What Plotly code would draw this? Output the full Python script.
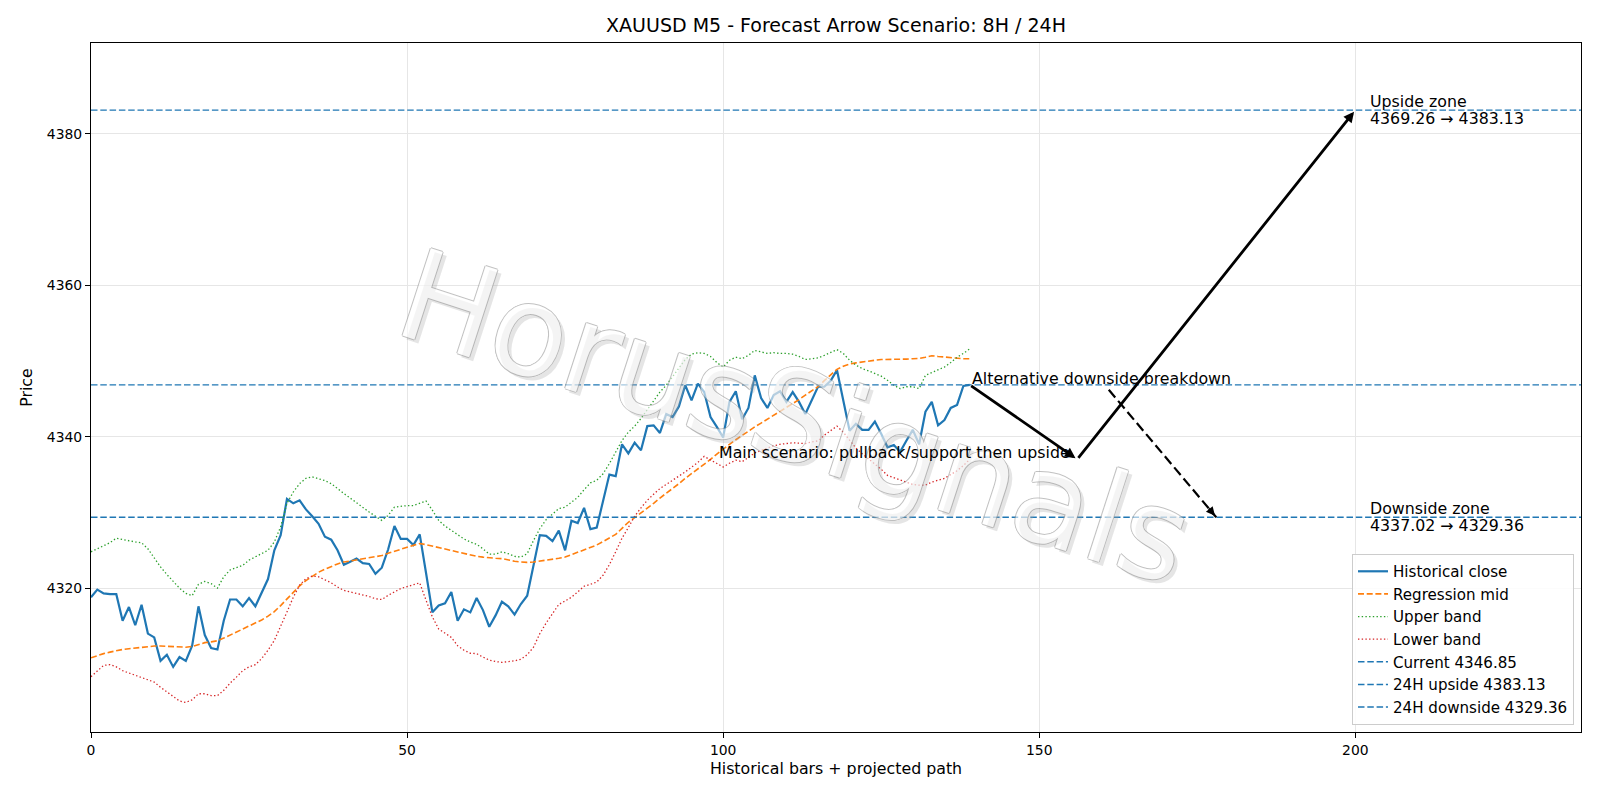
import plotly.graph_objects as go

# ---------------- data ----------------
bars = list(range(140))

close = [
    4318.8, 4319.8, 4319.3, 4319.2, 4319.2, 4315.7, 4317.5, 4315.1, 4317.8, 4314.0,
    4313.5, 4310.4, 4311.2, 4309.6, 4310.9, 4310.4, 4312.4, 4317.6, 4313.8, 4312.1,
    4311.9, 4315.7, 4318.5, 4318.5, 4317.6, 4318.7, 4317.6, 4319.3, 4321.2, 4325.0,
    4327.0, 4331.8, 4331.2, 4331.6, 4330.4, 4329.5, 4328.5, 4326.8, 4326.4, 4325.0,
    4323.1, 4323.5, 4323.9, 4323.3, 4323.2, 4321.9, 4322.7, 4325.1, 4328.2, 4326.5,
    4326.5, 4325.7, 4327.1, 4322.0, 4316.8, 4317.7, 4318.0, 4319.5, 4315.7, 4317.2,
    4316.8, 4318.7, 4317.1, 4314.9, 4316.4, 4318.2, 4317.6, 4316.5, 4317.9, 4319.0,
    4323.0, 4327.0, 4326.9, 4326.2, 4327.6, 4325.0, 4328.9, 4328.6, 4330.6, 4327.8,
    4328.0, 4331.6, 4335.0, 4334.8, 4339.0, 4337.8, 4339.2, 4338.2, 4341.4, 4341.5,
    4340.5, 4343.0, 4342.6, 4344.0, 4346.8, 4344.8, 4347.0, 4345.9, 4342.6, 4341.3,
    4339.9, 4344.6, 4346.0, 4342.3, 4343.8, 4348.1, 4345.1, 4343.8, 4345.5, 4346.0,
    4344.6, 4345.9, 4344.6, 4343.0, 4344.8, 4346.6, 4346.6, 4347.4, 4348.8, 4344.8,
    4340.8, 4341.7, 4340.9, 4340.9, 4342.0, 4340.4, 4338.6, 4338.9, 4338.0, 4339.5,
    4340.9, 4339.0, 4343.3, 4344.6, 4341.5, 4342.2, 4343.8, 4344.2, 4346.7, 4346.85,
]

reg_mid = [
    4310.8, 4311.1, 4311.35, 4311.55, 4311.75, 4311.9, 4312.0, 4312.1, 4312.2, 4312.3,
    4312.35, 4312.35, 4312.3, 4312.25, 4312.2, 4312.2, 4312.3, 4312.6, 4312.8, 4312.9,
    4313.05, 4313.4, 4313.8, 4314.2, 4314.6, 4315.0, 4315.4, 4315.8, 4316.3, 4316.9,
    4317.7, 4318.6, 4319.5, 4320.3, 4321.0, 4321.6, 4322.1, 4322.5, 4322.9, 4323.2,
    4323.45, 4323.6, 4323.75, 4323.9, 4324.0, 4324.1, 4324.3, 4324.6, 4324.9, 4325.15,
    4325.4, 4325.65, 4325.9, 4325.75, 4325.55, 4325.35, 4325.1, 4324.9, 4324.7, 4324.5,
    4324.3, 4324.2, 4324.1, 4324.0, 4323.95, 4323.9, 4323.7, 4323.55, 4323.45, 4323.4,
    4323.45, 4323.55, 4323.7, 4323.8, 4323.95, 4324.1, 4324.4, 4324.7, 4325.0, 4325.35,
    4325.7, 4326.15, 4326.6, 4327.1, 4327.9, 4328.7, 4329.3, 4329.9, 4330.5, 4331.2,
    4331.9, 4332.5, 4333.1, 4333.8, 4334.5, 4335.1, 4335.7, 4336.3, 4337.0, 4337.7,
    4338.4, 4339.0, 4339.6, 4340.2, 4340.8, 4341.3, 4341.8, 4342.3, 4342.8, 4343.3,
    4343.85, 4344.4, 4344.9, 4345.5, 4346.0, 4346.6, 4347.4, 4348.2, 4348.9, 4349.3,
    4349.6, 4349.75, 4349.9, 4350.0, 4350.1, 4350.2, 4350.2, 4350.2, 4350.2, 4350.25,
    4350.3, 4350.35, 4350.5, 4350.7, 4350.6, 4350.5, 4350.4, 4350.3, 4350.3, 4350.3,
]

upper = [
    4324.8, 4325.2, 4325.5, 4326.0, 4326.6, 4326.4, 4326.2, 4326.1, 4326.0, 4325.2,
    4324.0, 4322.8, 4321.8, 4320.9, 4320.0, 4319.3, 4319.0, 4320.5, 4320.9, 4320.6,
    4320.0, 4321.5, 4322.4, 4322.7, 4323.0, 4323.7, 4324.1, 4324.5, 4325.0, 4326.1,
    4328.1, 4331.2, 4332.7, 4333.8, 4334.5, 4334.7, 4334.5, 4334.2, 4333.8, 4333.1,
    4332.5, 4331.9, 4331.25, 4330.6, 4330.05, 4329.5, 4328.95, 4329.6, 4330.7, 4330.8,
    4330.9, 4330.9, 4331.2, 4331.5, 4330.3, 4328.95, 4328.2, 4327.6, 4327.0, 4326.5,
    4326.1, 4325.8, 4325.2, 4324.5, 4324.5, 4324.8, 4324.55, 4324.2, 4324.1, 4324.55,
    4326.3, 4327.85, 4329.05, 4329.75, 4330.5, 4330.7, 4331.4, 4332.0, 4333.0, 4333.9,
    4334.25, 4335.1, 4336.45, 4338.0, 4339.5, 4340.6, 4341.4, 4342.4, 4343.6, 4344.8,
    4345.9, 4346.8, 4347.9, 4349.0, 4350.2, 4350.9, 4351.1, 4351.0, 4350.6, 4349.8,
    4349.2, 4350.1, 4350.5, 4350.3, 4350.75, 4351.4, 4351.2, 4351.0, 4351.1, 4351.0,
    4351.0, 4350.9, 4350.6, 4350.2, 4350.3, 4350.4, 4350.75, 4351.1, 4351.5, 4351.0,
    4350.1, 4349.45, 4349.0, 4348.7, 4348.3, 4348.0, 4347.45, 4346.8, 4346.35, 4346.6,
    4346.6, 4346.35, 4348.1, 4348.5, 4348.9, 4349.2, 4349.8, 4350.5, 4351.0, 4351.6,
]

lower = [
    4308.3, 4309.1, 4309.8, 4309.9, 4309.6, 4309.1, 4308.8, 4308.6, 4308.3, 4307.9,
    4307.6, 4306.9, 4306.3, 4305.6, 4305.1, 4304.9, 4305.25, 4306.05, 4306.05, 4305.8,
    4305.8, 4306.5, 4307.45, 4308.25, 4309.1, 4309.6, 4309.9, 4310.7, 4311.8, 4313.1,
    4314.9, 4316.85, 4318.8, 4320.4, 4321.25, 4321.6, 4321.5, 4321.1, 4320.7, 4320.15,
    4319.7, 4319.5, 4319.3, 4319.2, 4318.9, 4318.6, 4318.5, 4319.05, 4319.45, 4319.95,
    4320.2, 4320.5, 4320.7, 4318.4, 4316.2, 4314.6, 4314.05, 4313.5, 4312.4, 4311.8,
    4311.4, 4311.35, 4310.9, 4310.5, 4310.3, 4310.2, 4310.3, 4310.4, 4310.6, 4311.2,
    4312.2, 4314.0, 4315.4, 4316.6, 4317.85, 4318.3, 4318.8, 4319.5, 4320.25, 4320.5,
    4320.8, 4321.7, 4323.1, 4324.8, 4326.6, 4328.0, 4329.5, 4330.6, 4331.6, 4332.4,
    4333.15, 4333.7, 4334.3, 4334.8, 4335.35, 4336.0, 4336.6, 4337.4, 4336.9, 4336.4,
    4336.0, 4336.5, 4336.9, 4336.7, 4337.3, 4337.85, 4338.2, 4338.55, 4338.8, 4339.0,
    4339.1, 4339.2, 4339.15, 4339.1, 4339.3, 4339.45, 4340.2, 4340.85, 4341.4, 4340.6,
    4339.5, 4338.5, 4337.75, 4337.1, 4336.45, 4335.7, 4334.9, 4334.6, 4334.25, 4334.0,
    4333.7, 4333.6, 4333.6, 4334.0, 4334.2, 4334.5, 4335.0, 4335.5, 4336.2, 4337.0,
]

current = 4346.85
up_target = 4383.13
down_target = 4329.36
up_zone = [4369.26, 4383.13]
down_zone = [4337.02, 4329.36]
pullback = 4337.02

main_path_x = [139, 156, 200]
main_path_y = [current, pullback, up_target]
alt_path_x = [161, 178]
alt_path_y = [4346.2, down_target]

x_range = [0, 235.7]
y_range = [4301.0, 4392.0]
x_ticks = [0, 50, 100, 150, 200]
y_ticks = [4320, 4340, 4360, 4380]

title = "XAUUSD M5 - Forecast Arrow Scenario: 8H / 24H"
watermark = "HorusSignals"

# ---------------- styling ----------------
FONT = "DejaVu Sans"
C0, C1, C2, C3 = "#1f77b4", "#ff7f0e", "#2ca02c", "#d62728"
FS_TICK = 13.9
FS_TXT = 15.8

fig = go.Figure()

fig.add_trace(go.Scatter(x=bars, y=close, mode="lines", name="Historical close",
                         line=dict(color=C0, width=2.2)))
fig.add_trace(go.Scatter(x=bars, y=reg_mid, mode="lines", name="Regression mid",
                         line=dict(color=C1, width=1.6, dash="6px,2.7px")))
fig.add_trace(go.Scatter(x=bars, y=upper, mode="lines", name="Upper band",
                         line=dict(color=C2, width=1.3, dash="1.4px,2.3px")))
fig.add_trace(go.Scatter(x=bars, y=lower, mode="lines", name="Lower band",
                         line=dict(color=C3, width=1.3, dash="1.4px,2.3px")))

for lvl, nm in [(current, f"Current {current:.2f}"),
                (up_target, f"24H upside {up_target:.2f}"),
                (down_target, f"24H downside {down_target:.2f}")]:
    fig.add_trace(go.Scatter(x=x_range, y=[lvl, lvl], mode="lines", name=nm,
                             line=dict(color=C0, width=1.4, dash="6.5px,2.8px")))

# dashed alternative path line (head added as annotation)
fig.add_trace(go.Scatter(x=alt_path_x, y=alt_path_y, mode="lines", showlegend=False,
                         hoverinfo="skip",
                         line=dict(color="black", width=2.2, dash="10px,4.5px")))

annotations = []

# watermark shadow + watermark
wm_x, wm_y = 0.4727, 0.456
annotations.append(dict(text=watermark, xref="paper", yref="paper", x=wm_x, y=wm_y,
                        xanchor="center", yanchor="middle", showarrow=False,
                        textangle=18, xshift=4, yshift=-4,
                        font=dict(family=FONT, size=126, color="rgba(170,170,170,0.3)")))
annotations.append(dict(text=watermark, xref="paper", yref="paper", x=wm_x, y=wm_y,
                        xanchor="center", yanchor="middle", showarrow=False,
                        textangle=18, opacity=0.6,
                        font=dict(family=FONT, size=126, color="white",
                                  shadow="1px 0 0 #999999, -1px 0 0 #999999, 0 1px 0 #999999, 0 -1px 0 #999999")))

# scenario arrows
for i in range(len(main_path_x) - 1):
    annotations.append(dict(x=main_path_x[i + 1], y=main_path_y[i + 1],
                            ax=main_path_x[i], ay=main_path_y[i],
                            xref="x", yref="y", axref="x", ayref="y",
                            showarrow=True, arrowhead=2, arrowsize=0.75, arrowwidth=2.8,
                            arrowcolor="black", standoff=2, startstandoff=0, text=""))
# dashed arrow head
hx = alt_path_x[1] - (alt_path_x[1] - alt_path_x[0]) * 0.08
hy = alt_path_y[1] - (alt_path_y[1] - alt_path_y[0]) * 0.08
annotations.append(dict(x=alt_path_x[1], y=alt_path_y[1], ax=hx, ay=hy,
                        xref="x", yref="y", axref="x", ayref="y",
                        showarrow=True, arrowhead=2, arrowsize=0.8, arrowwidth=2.2,
                        arrowcolor="black", standoff=2, text=""))

# texts
txt_font = dict(family=FONT, size=FS_TXT, color="black")
annotations.append(dict(text="Alternative downside breakdown", x=main_path_x[0], y=current,
                        xref="x", yref="y", xanchor="left", yanchor="bottom", yshift=-5,
                        showarrow=False, font=txt_font))
annotations.append(dict(text="Main scenario: pullback/support then upside", x=99, y=pullback,
                        xref="x", yref="y", xanchor="left", yanchor="bottom", yshift=-5,
                        showarrow=False, font=txt_font))
for lvl, zone, label in [(up_target, up_zone, "Upside zone"),
                         (down_target, down_zone, "Downside zone")]:
    annotations.append(dict(text=label, x=202, y=lvl, xref="x", yref="y",
                            xanchor="left", yanchor="middle", yshift=8.5,
                            showarrow=False, font=txt_font))
    annotations.append(dict(text=f"{zone[0]:.2f} → {zone[1]:.2f}", x=202, y=lvl,
                            xref="x", yref="y", xanchor="left", yanchor="middle",
                            yshift=-8, showarrow=False, font=txt_font))

axis_common = dict(showline=True, mirror=True, linecolor="black", linewidth=1.1,
                   ticks="outside", ticklen=5, tickwidth=1.1, tickcolor="black",
                   showgrid=True, gridcolor="#e6e6e6", gridwidth=1, zeroline=False,
                   tickfont=dict(family=FONT, size=FS_TICK, color="black"))

fig.update_layout(
    width=1600, height=800,
    margin=dict(l=91, r=19, t=43, b=68),
    paper_bgcolor="white", plot_bgcolor="white",
    title=dict(text=title, x=0.5225, xanchor="center", y=0.968, yanchor="middle",
               font=dict(family=FONT, size=19, color="black")),
    xaxis=dict(range=x_range, tickvals=x_ticks,
               title=dict(text="Historical bars + projected path", standoff=6,
                          font=dict(family=FONT, size=FS_TXT, color="black")),
               **axis_common),
    yaxis=dict(range=y_range, tickvals=y_ticks,
               title=dict(text="Price", standoff=10,
                          font=dict(family=FONT, size=FS_TXT, color="black")),
               **axis_common),
    legend=dict(x=0.9953, y=0.0102, xanchor="right", yanchor="bottom",
                bgcolor="rgba(255,255,255,0.85)", bordercolor="#cccccc", borderwidth=1,
                font=dict(family=FONT, size=15.1, color="black")),
    annotations=annotations,
    showlegend=True,
)

fig.write_html("out.html")
